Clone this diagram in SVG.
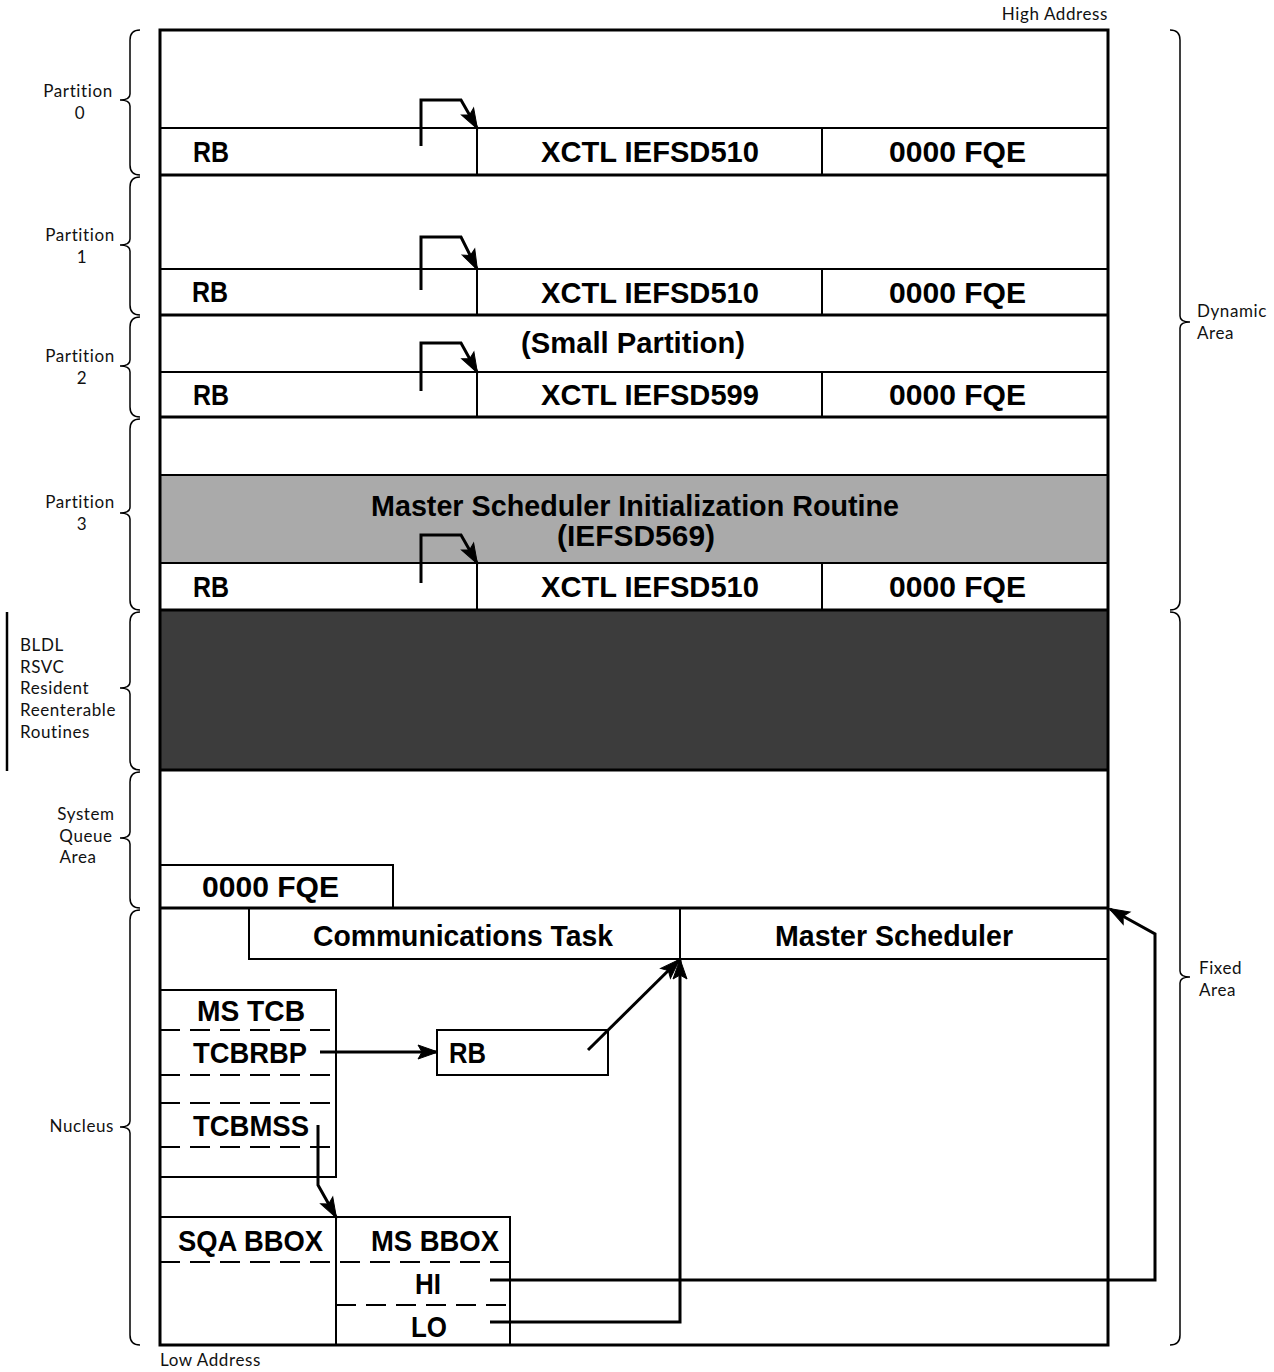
<svg xmlns="http://www.w3.org/2000/svg" width="1274" height="1372" viewBox="0 0 1274 1372">
<style>
.lbl{font-family:Lato,"DejaVu Sans",sans-serif;font-size:17px;letter-spacing:0.6px;fill:#111}
.b{font-family:"Liberation Sans",Arial,sans-serif;font-weight:bold;font-size:30px;fill:#000}
.ln{stroke:#000;stroke-width:2;fill:none}
.thick{stroke:#000;stroke-width:3;fill:none}
.dash{stroke:#000;stroke-width:1.8;fill:none;stroke-dasharray:20 10}
.brace{stroke:#000;stroke-width:1.5;fill:none}
.arr{stroke:#000;stroke-width:3;fill:none;marker-end:url(#ah)}
</style>
<defs>
<marker id="ah" markerUnits="userSpaceOnUse" markerWidth="22" markerHeight="16" refX="19" refY="8" orient="auto" overflow="visible">
<path d="M0,1 L20,8 L0,15 L4,8 z" fill="#000" stroke="#000" stroke-width="1" stroke-linejoin="miter"/>
</marker>
</defs>
<rect width="1274" height="1372" fill="#fff"/>

<rect x="160" y="475" width="948" height="88" fill="#aaaaaa"/>
<rect x="160" y="610" width="948" height="160" fill="#3c3c3c"/>

<g id="frame">
<rect x="160" y="30" width="948" height="1315" class="thick"/>
<line x1="160" y1="175" x2="1108" y2="175" class="thick"/>
<line x1="160" y1="315" x2="1108" y2="315" class="thick"/>
<line x1="160" y1="417" x2="1108" y2="417" class="thick"/>
<line x1="160" y1="610" x2="1108" y2="610" class="thick"/>
<line x1="160" y1="770" x2="1108" y2="770" class="thick"/>
<line x1="160" y1="908" x2="1108" y2="908" class="thick"/>
<line x1="160" y1="475" x2="1108" y2="475" class="ln"/>
</g>

<g id="partition0">
<line x1="160" y1="128" x2="1108" y2="128" class="ln"/>
<line x1="477" y1="128" x2="477" y2="175" class="ln"/>
<line x1="822" y1="128" x2="822" y2="175" class="ln"/>
<text class="b" x="193" y="162" textLength="36" lengthAdjust="spacingAndGlyphs">RB</text>
<text class="b" x="541" y="162" textLength="218" lengthAdjust="spacingAndGlyphs">XCTL IEFSD510</text>
<text class="b" x="889" y="162" textLength="137" lengthAdjust="spacingAndGlyphs">0000 FQE</text>
</g>

<g id="partition1">
<line x1="160" y1="269" x2="1108" y2="269" class="ln"/>
<line x1="477" y1="269" x2="477" y2="315" class="ln"/>
<line x1="822" y1="269" x2="822" y2="315" class="ln"/>
<text class="b" x="192" y="302" textLength="36" lengthAdjust="spacingAndGlyphs">RB</text>
<text class="b" x="541" y="303" textLength="218" lengthAdjust="spacingAndGlyphs">XCTL IEFSD510</text>
<text class="b" x="889" y="303" textLength="137" lengthAdjust="spacingAndGlyphs">0000 FQE</text>
</g>

<g id="partition2">
<line x1="160" y1="372" x2="1108" y2="372" class="ln"/>
<line x1="477" y1="372" x2="477" y2="417" class="ln"/>
<line x1="822" y1="372" x2="822" y2="417" class="ln"/>
<text class="b" x="521" y="353" textLength="224" lengthAdjust="spacingAndGlyphs">(Small Partition)</text>
<text class="b" x="193" y="405" textLength="36" lengthAdjust="spacingAndGlyphs">RB</text>
<text class="b" x="541" y="405" textLength="218" lengthAdjust="spacingAndGlyphs">XCTL IEFSD599</text>
<text class="b" x="889" y="405" textLength="137" lengthAdjust="spacingAndGlyphs">0000 FQE</text>
</g>

<g id="partition3">
<line x1="160" y1="563" x2="1108" y2="563" class="ln"/>
<line x1="477" y1="563" x2="477" y2="610" class="ln"/>
<line x1="822" y1="563" x2="822" y2="610" class="ln"/>
<text class="b" x="371" y="516" textLength="528" lengthAdjust="spacingAndGlyphs">Master Scheduler Initialization Routine</text>
<text class="b" x="557" y="546" textLength="158" lengthAdjust="spacingAndGlyphs">(IEFSD569)</text>
<text class="b" x="193" y="597" textLength="36" lengthAdjust="spacingAndGlyphs">RB</text>
<text class="b" x="541" y="597" textLength="218" lengthAdjust="spacingAndGlyphs">XCTL IEFSD510</text>
<text class="b" x="889" y="597" textLength="137" lengthAdjust="spacingAndGlyphs">0000 FQE</text>
</g>

<g id="sqa">
<rect x="160" y="865" width="233" height="43" class="ln"/>
<text class="b" x="202" y="897" textLength="137" lengthAdjust="spacingAndGlyphs">0000 FQE</text>
</g>

<g id="comm-task">
<rect x="249" y="908" width="431" height="51" class="ln"/>
<text class="b" x="313" y="946" textLength="300" lengthAdjust="spacingAndGlyphs">Communications Task</text>
</g>

<g id="master-scheduler">
<rect x="680" y="908" width="428" height="51" class="ln"/>
<text class="b" x="775" y="946" textLength="238" lengthAdjust="spacingAndGlyphs">Master Scheduler</text>
</g>

<g id="ms-tcb">
<path d="M160,990 H336 V1177 H160" class="ln"/>
<line x1="160" y1="1030" x2="336" y2="1030" class="dash"/>
<line x1="160" y1="1075" x2="336" y2="1075" class="dash"/>
<line x1="160" y1="1103" x2="336" y2="1103" class="dash"/>
<line x1="160" y1="1147" x2="336" y2="1147" class="dash"/>
<text class="b" x="197" y="1021" textLength="108" lengthAdjust="spacingAndGlyphs">MS TCB</text>
<text class="b" x="193" y="1063" textLength="114" lengthAdjust="spacingAndGlyphs">TCBRBP</text>
<text class="b" x="193" y="1136" textLength="116" lengthAdjust="spacingAndGlyphs">TCBMSS</text>
</g>

<g id="rb-box">
<rect x="437" y="1030" width="171" height="45" class="ln"/>
<text class="b" x="449" y="1063" textLength="37" lengthAdjust="spacingAndGlyphs">RB</text>
</g>

<g id="bbox">
<path d="M160,1217 H510 V1345 M336,1217 V1345" class="ln"/>
<line x1="160" y1="1262" x2="510" y2="1262" class="dash"/>
<line x1="336" y1="1305" x2="510" y2="1305" class="dash"/>
<text class="b" x="178" y="1251" textLength="145" lengthAdjust="spacingAndGlyphs">SQA BBOX</text>
<text class="b" x="371" y="1251" textLength="128" lengthAdjust="spacingAndGlyphs">MS BBOX</text>
<text class="b" x="415" y="1294" textLength="26" lengthAdjust="spacingAndGlyphs">HI</text>
<text class="b" x="411" y="1337" textLength="36" lengthAdjust="spacingAndGlyphs">LO</text>
</g>

<g id="connectors">
<path d="M421,146 V100 H461 L477,128" class="arr"/>
<path d="M421,290 V237 H461 L477,269" class="arr"/>
<path d="M421,391 V343 H461 L477,372" class="arr"/>
<path d="M421,583 V535 H461 L477,563" class="arr"/>
<path d="M320,1052 H437" class="arr"/>
<path d="M588,1050 L679,960" class="arr"/>
<path d="M490,1322 H680 V960" class="arr"/>
<path d="M490,1280 H1155 V934 L1110,909" class="arr"/>
<path d="M318,1125 V1185 L336,1217" class="arr"/>
</g>

<g id="braces">
<path class="brace" d="M140,30 Q130,30 130,40 L130,94 Q130,100 120,100 Q130,100 130,106 L130,165 Q130,175 140,175"/>
<path class="brace" d="M140,177 Q130,177 130,187 L130,239 Q130,245 120,245 Q130,245 130,251 L130,305 Q130,315 140,315"/>
<path class="brace" d="M140,317 Q130,317 130,327 L130,360 Q130,366 120,366 Q130,366 130,372 L130,407 Q130,417 140,417"/>
<path class="brace" d="M140,419 Q130,419 130,429 L130,507 Q130,513 120,513 Q130,513 130,519 L130,600 Q130,610 140,610"/>
<path class="brace" d="M140,612 Q130,612 130,622 L130,682 Q130,688 120,688 Q130,688 130,694 L130,760 Q130,770 140,770"/>
<path class="brace" d="M140,772 Q130,772 130,782 L130,832 Q130,838 120,838 Q130,838 130,844 L130,898 Q130,908 140,908"/>
<path class="brace" d="M140,910 Q130,910 130,920 L130,1121 Q130,1127 120,1127 Q130,1127 130,1133 L130,1335 Q130,1345 140,1345"/>
<path class="brace" d="M1170,30 Q1180,30 1180,40 L1180,316 Q1180,322 1190,322 Q1180,322 1180,328 L1180,600 Q1180,610 1170,610"/>
<path class="brace" d="M1170,612 Q1180,612 1180,622 L1180,971 Q1180,977 1190,977 Q1180,977 1180,983 L1180,1335 Q1180,1345 1170,1345"/>
<line x1="7" y1="612" x2="7" y2="771" stroke="#000" stroke-width="2.5"/>
</g>

<g id="labels">
<text class="lbl" x="1108" y="20" text-anchor="end">High Address</text>
<text class="lbl" x="160" y="1366">Low Address</text>
<text class="lbl" x="78" y="97" text-anchor="middle">Partition</text>
<text class="lbl" x="80" y="119" text-anchor="middle">0</text>
<text class="lbl" x="80" y="241" text-anchor="middle">Partition</text>
<text class="lbl" x="82" y="263" text-anchor="middle">1</text>
<text class="lbl" x="80" y="362" text-anchor="middle">Partition</text>
<text class="lbl" x="82" y="384" text-anchor="middle">2</text>
<text class="lbl" x="80" y="508" text-anchor="middle">Partition</text>
<text class="lbl" x="82" y="530" text-anchor="middle">3</text>
<text class="lbl" x="20" y="651">BLDL</text>
<text class="lbl" x="20" y="673">RSVC</text>
<text class="lbl" x="20" y="694">Resident</text>
<text class="lbl" x="20" y="716">Reenterable</text>
<text class="lbl" x="20" y="738">Routines</text>
<text class="lbl" x="86" y="820" text-anchor="middle">System</text>
<text class="lbl" x="86" y="842" text-anchor="middle">Queue</text>
<text class="lbl" x="78" y="863" text-anchor="middle">Area</text>
<text class="lbl" x="114" y="1132" text-anchor="end">Nucleus</text>
<text class="lbl" x="1197" y="317">Dynamic</text>
<text class="lbl" x="1197" y="339">Area</text>
<text class="lbl" x="1199" y="974">Fixed</text>
<text class="lbl" x="1199" y="996">Area</text>
</g>
</svg>
